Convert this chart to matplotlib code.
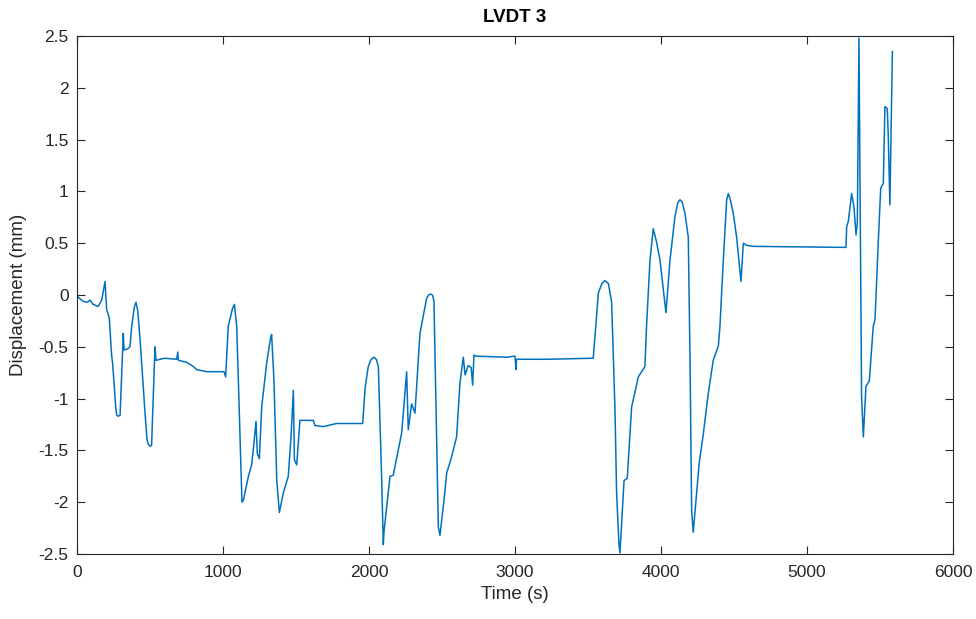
import matplotlib
matplotlib.use("Agg")
import matplotlib.pyplot as plt
import numpy as np

# LVDT 3 displacement trace
time_s = [0, 7, 41, 70, 89, 110, 144, 169, 192, 203, 221, 237, 244, 265, 272, 282,
          295, 317, 322, 345, 363, 374, 392, 404, 416, 432, 466, 480, 489, 500, 511,
          534, 541, 600, 683, 690, 695, 751, 797, 820, 888, 1007, 1018, 1036, 1065,
          1078, 1094, 1121, 1130, 1140, 1174, 1196, 1212, 1226, 1235, 1249, 1265,
          1299, 1325, 1333, 1349, 1368, 1386, 1413, 1447, 1466, 1482, 1489, 1505,
          1527, 1619, 1630, 1687, 1779, 1957, 1973, 1995, 2015, 2034, 2050, 2064,
          2087, 2098, 2103, 2144, 2166, 2224, 2258, 2269, 2292, 2315, 2349, 2395,
          2408, 2422, 2435, 2445, 2459, 2475, 2486, 2514, 2532, 2566, 2600, 2623,
          2646, 2658, 2680, 2700, 2710, 2719, 2733, 2943, 3000, 3007, 3010, 3217,
          3536, 3548, 3571, 3595, 3616, 3640, 3662, 3685, 3696, 3712, 3719, 3747,
          3769, 3799, 3845, 3890, 3901, 3925, 3947, 3970, 3993, 4034, 4062, 4096,
          4115, 4130, 4145, 4164, 4187, 4199, 4210, 4221, 4244, 4262, 4290, 4324,
          4358, 4393, 4404, 4427, 4450, 4461, 4475, 4495, 4518, 4548, 4564, 4587,
          4632, 5267, 5272, 5283, 5306, 5322, 5336, 5345, 5356, 5374, 5386, 5404,
          5427, 5454, 5466, 5488, 5505, 5523, 5534, 5550, 5557, 5568, 5585]

disp_mm = [0.0, -0.02, -0.06, -0.07, -0.05, -0.09, -0.11, -0.05, 0.13, -0.14, -0.22,
           -0.58, -0.66, -1.08, -1.16, -1.17, -1.16, -0.37, -0.53, -0.52, -0.50,
           -0.31, -0.12, -0.07, -0.15, -0.43, -1.14, -1.40, -1.44, -1.46, -1.45,
           -0.50, -0.63, -0.61, -0.62, -0.55, -0.63, -0.65, -0.69, -0.72, -0.74,
           -0.74, -0.79, -0.30, -0.13, -0.09, -0.30, -1.59, -2.00, -1.98, -1.75,
           -1.64, -1.43, -1.22, -1.53, -1.58, -1.08, -0.66, -0.42, -0.38, -0.82,
           -1.78, -2.10, -1.91, -1.75, -1.37, -0.92, -1.59, -1.64, -1.21, -1.21,
           -1.26, -1.27, -1.24, -1.24, -0.90, -0.69, -0.62, -0.60, -0.62, -0.69,
           -1.78, -2.41, -2.28, -1.75, -1.74, -1.33, -0.74, -1.30, -1.05, -1.14,
           -0.37, -0.03, 0.00, 0.01, 0.00, -0.06, -1.08, -2.24, -2.32, -1.98,
           -1.72, -1.56, -1.37, -0.85, -0.60, -0.77, -0.68, -0.70, -0.87, -0.58,
           -0.59, -0.60, -0.59, -0.72, -0.62, -0.62, -0.61, -0.40, 0.02, 0.11,
           0.14, 0.11, -0.07, -1.11, -1.91, -2.40, -2.49, -1.79, -1.77, -1.08,
           -0.79, -0.69, -0.30, 0.34, 0.64, 0.51, 0.34, -0.17, 0.34, 0.76, 0.89,
           0.92, 0.90, 0.79, 0.56, -0.63, -2.08, -2.29, -1.91, -1.62, -1.34,
           -0.95, -0.63, -0.49, -0.30, 0.34, 0.92, 0.98, 0.92, 0.79, 0.56, 0.13,
           0.50, 0.48, 0.47, 0.46, 0.66, 0.71, 0.98, 0.85, 0.58, 0.70, 2.48,
           -0.98, -1.37, -0.88, -0.83, -0.30, -0.24, 0.50, 1.03, 1.08, 1.82,
           1.80, 1.53, 0.87, 2.35]

x_ticks = [0, 1000, 2000, 3000, 4000, 5000, 6000]
y_ticks = [-2.5, -2, -1.5, -1, -0.5, 0, 0.5, 1, 1.5, 2, 2.5]

plt.rcParams['font.family'] = ['Liberation Sans', 'DejaVu Sans']
plt.rcParams['axes.unicode_minus'] = False

fig = plt.figure(figsize=(9.76, 6.19), dpi=100)
ax = fig.add_axes([0.0789, 0.105, 0.8975, 0.8367])

ax.plot(time_s, disp_mm, color='#0072BD', linewidth=1.1)

ax.set_xlim(0, 6000)
ax.set_ylim(-2.5, 2.5)
ax.set_xticks(x_ticks)
ax.set_yticks(y_ticks)
ax.set_yticklabels([f"{v:g}" for v in y_ticks])

ax.tick_params(direction='in', length=6, width=0.8, top=True, right=True,
               labelsize=12.5, colors='#262626')
ax.tick_params(axis='x', pad=8)
ax.tick_params(axis='y', pad=6)
for s in ax.spines.values():
    s.set_color('#262626')
    s.set_linewidth(0.8)

ax.set_xlabel("Time (s)", fontsize=13.5, color='#262626', labelpad=4)
ax.set_ylabel("Displacement (mm)", fontsize=13.5, color='#262626', labelpad=8)
ax.set_title("LVDT 3", fontsize=13.5, fontweight='bold', pad=10)

fig.savefig("out.png", dpi=100)
